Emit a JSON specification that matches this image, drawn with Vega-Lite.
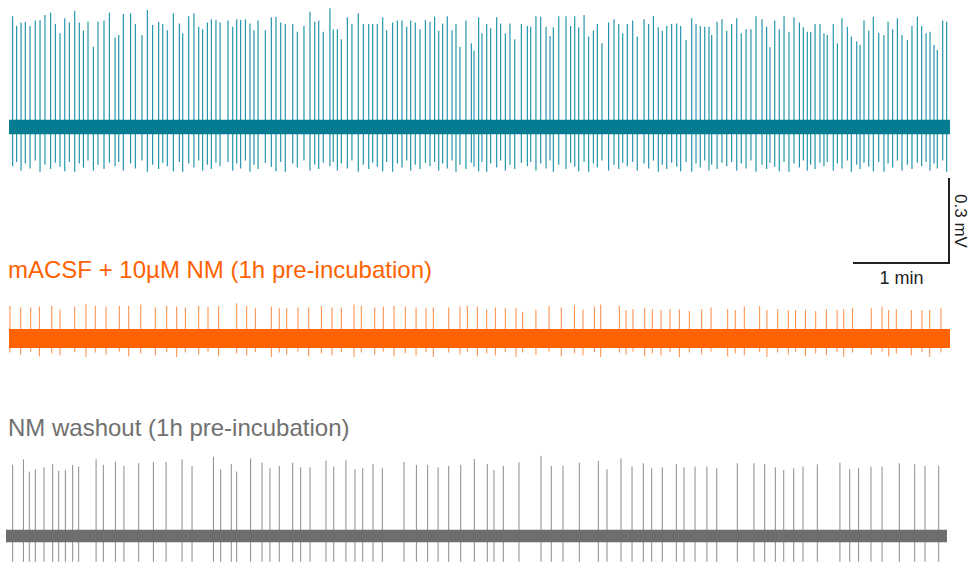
{
  "$schema": "https://vega.github.io/schema/vega-lite/v6.json",
  "padding": 0,
  "bounds": "flush",
  "spacing": 20,
  "background": "white",
  "config": {"view": {"stroke": null}, "font": "Liberation Sans"},
  "resolve": {"scale": {"x": "independent", "y": "independent"}},
  "datasets": {
    "bands": [
      {"trace": "teal", "t0": 0, "t1": 594.3, "lo": -0.026, "hi": 0.026},
      {"trace": "orange", "t0": 0, "t1": 594.3, "lo": -0.034, "hi": 0.034},
      {"trace": "gray", "t0": -1.9, "t1": 592.4, "lo": -0.022, "hi": 0.022}
    ],
    "scalebar": [
      {"t": 533.7, "t2": 593.7, "v": -0.4857, "v2": -0.4857},
      {"t": 593.7, "t2": 593.7, "v": -0.4857, "v2": -0.1857}
    ],
    "labels": [
      {"t": 563.7, "v": -0.5607, "label": "1 min", "angle": 0},
      {"t": 597.5, "v": -0.3357, "label": "0.3 mV", "angle": 90}
    ],
    "teal": [
      {"t":2.3,"hi":0.396,"lo":-0.14},{"t":4.8,"hi":0.361,"lo":-0.125},{"t":7.6,"hi":0.373,"lo":-0.155},{"t":10.3,"hi":0.375,"lo":-0.13},
      {"t":13.3,"hi":0.361,"lo":-0.148},{"t":16.6,"hi":0.38,"lo":-0.12},{"t":19.6,"hi":0.382,"lo":-0.16},{"t":22.7,"hi":0.4,"lo":-0.135},
      {"t":26.3,"hi":0.408,"lo":-0.15},{"t":29.3,"hi":0.368,"lo":-0.128},{"t":32.2,"hi":0.335,"lo":-0.142},{"t":35.2,"hi":0.388,"lo":-0.158},
      {"t":38.1,"hi":0.373,"lo":-0.125},{"t":41.5,"hi":0.415,"lo":-0.16},{"t":44.4,"hi":0.373,"lo":-0.13},{"t":47.0,"hi":0.344,"lo":-0.145},
      {"t":49.9,"hi":0.376,"lo":-0.12},{"t":53.3,"hi":0.287,"lo":-0.155},{"t":56.2,"hi":0.376,"lo":-0.135},{"t":60.0,"hi":0.38,"lo":-0.15},
      {"t":63.4,"hi":0.408,"lo":-0.128},{"t":67.0,"hi":0.32,"lo":-0.14},{"t":69.3,"hi":0.329,"lo":-0.125},{"t":72.2,"hi":0.404,"lo":-0.155},
      {"t":76.8,"hi":0.406,"lo":-0.13},{"t":79.8,"hi":0.368,"lo":-0.148},{"t":84.0,"hi":0.329,"lo":-0.12},{"t":87.4,"hi":0.418,"lo":-0.16},
      {"t":90.7,"hi":0.364,"lo":-0.135},{"t":94.5,"hi":0.376,"lo":-0.15},{"t":97.1,"hi":0.368,"lo":-0.128},{"t":100.0,"hi":0.346,"lo":-0.14},
      {"t":103.8,"hi":0.406,"lo":-0.158},{"t":107.6,"hi":0.37,"lo":-0.125},{"t":109.7,"hi":0.335,"lo":-0.16},{"t":113.5,"hi":0.396,"lo":-0.13},
      {"t":116.8,"hi":0.406,"lo":-0.145},{"t":119.8,"hi":0.358,"lo":-0.12},{"t":122.3,"hi":0.349,"lo":-0.155},{"t":125.3,"hi":0.373,"lo":-0.135},
      {"t":127.8,"hi":0.385,"lo":-0.15},{"t":130.7,"hi":0.382,"lo":-0.128},{"t":133.3,"hi":0.373,"lo":-0.14},{"t":138.3,"hi":0.38,"lo":-0.125},
      {"t":141.3,"hi":0.358,"lo":-0.155},{"t":143.8,"hi":0.385,"lo":-0.13},{"t":146.3,"hi":0.382,"lo":-0.148},{"t":149.3,"hi":0.385,"lo":-0.12},
      {"t":152.2,"hi":0.37,"lo":-0.16},{"t":154.7,"hi":0.346,"lo":-0.135},{"t":157.3,"hi":0.38,"lo":-0.15},{"t":161.9,"hi":0.346,"lo":-0.128},
      {"t":165.7,"hi":0.392,"lo":-0.142},{"t":168.6,"hi":0.394,"lo":-0.158},{"t":171.6,"hi":0.373,"lo":-0.125},{"t":174.5,"hi":0.368,"lo":-0.16},
      {"t":179.2,"hi":0.368,"lo":-0.13},{"t":182.1,"hi":0.34,"lo":-0.145},{"t":186.3,"hi":0.361,"lo":-0.12},{"t":190.1,"hi":0.412,"lo":-0.155},
      {"t":193.1,"hi":0.376,"lo":-0.135},{"t":195.6,"hi":0.38,"lo":-0.15},{"t":198.5,"hi":0.34,"lo":-0.128},{"t":202.7,"hi":0.424,"lo":-0.14},
      {"t":204.8,"hi":0.349,"lo":-0.125},{"t":207.4,"hi":0.349,"lo":-0.155},{"t":209.9,"hi":0.313,"lo":-0.13},{"t":213.7,"hi":0.392,"lo":-0.148},
      {"t":216.6,"hi":0.368,"lo":-0.12},{"t":220.6,"hi":0.406,"lo":-0.16},{"t":223.8,"hi":0.368,"lo":-0.135},{"t":227.2,"hi":0.368,"lo":-0.15},
      {"t":229.7,"hi":0.368,"lo":-0.128},{"t":232.6,"hi":0.368,"lo":-0.142},{"t":236.0,"hi":0.392,"lo":-0.158},{"t":238.5,"hi":0.346,"lo":-0.125},
      {"t":242.3,"hi":0.373,"lo":-0.16},{"t":245.3,"hi":0.38,"lo":-0.13},{"t":248.2,"hi":0.38,"lo":-0.145},{"t":251.2,"hi":0.358,"lo":-0.12},
      {"t":253.7,"hi":0.38,"lo":-0.155},{"t":256.6,"hi":0.373,"lo":-0.135},{"t":259.6,"hi":0.349,"lo":-0.15},{"t":263.0,"hi":0.382,"lo":-0.128},
      {"t":265.9,"hi":0.376,"lo":-0.14},{"t":268.8,"hi":0.394,"lo":-0.125},{"t":271.4,"hi":0.344,"lo":-0.155},{"t":273.9,"hi":0.37,"lo":-0.13},
      {"t":276.8,"hi":0.396,"lo":-0.148},{"t":279.8,"hi":0.346,"lo":-0.12},{"t":282.3,"hi":0.368,"lo":-0.16},{"t":284.8,"hi":0.287,"lo":-0.135},
      {"t":288.6,"hi":0.38,"lo":-0.15},{"t":292.0,"hi":0.299,"lo":-0.128},{"t":293.7,"hi":0.273,"lo":-0.142},{"t":296.6,"hi":0.392,"lo":-0.158},
      {"t":298.7,"hi":0.335,"lo":-0.125},{"t":301.7,"hi":0.368,"lo":-0.16},{"t":304.2,"hi":0.353,"lo":-0.13},{"t":308.0,"hi":0.392,"lo":-0.145},
      {"t":310.5,"hi":0.37,"lo":-0.12},{"t":313.5,"hi":0.335,"lo":-0.155},{"t":316.4,"hi":0.37,"lo":-0.135},{"t":319.4,"hi":0.313,"lo":-0.15},
      {"t":323.6,"hi":0.368,"lo":-0.128},{"t":327.4,"hi":0.361,"lo":-0.14},{"t":329.5,"hi":0.358,"lo":-0.125},{"t":332.8,"hi":0.396,"lo":-0.155},
      {"t":335.8,"hi":0.394,"lo":-0.13},{"t":339.2,"hi":0.358,"lo":-0.148},{"t":341.7,"hi":0.325,"lo":-0.12},{"t":343.8,"hi":0.356,"lo":-0.16},
      {"t":347.2,"hi":0.396,"lo":-0.135},{"t":351.8,"hi":0.396,"lo":-0.15},{"t":354.7,"hi":0.361,"lo":-0.128},{"t":357.3,"hi":0.396,"lo":-0.142},
      {"t":359.8,"hi":0.356,"lo":-0.158},{"t":363.2,"hi":0.4,"lo":-0.125},{"t":366.1,"hi":0.323,"lo":-0.16},{"t":369.1,"hi":0.344,"lo":-0.13},
      {"t":371.6,"hi":0.368,"lo":-0.145},{"t":374.5,"hi":0.299,"lo":-0.12},{"t":378.7,"hi":0.373,"lo":-0.155},{"t":382.1,"hi":0.385,"lo":-0.135},
      {"t":385.1,"hi":0.368,"lo":-0.15},{"t":387.6,"hi":0.335,"lo":-0.128},{"t":390.5,"hi":0.368,"lo":-0.14},{"t":393.9,"hi":0.38,"lo":-0.125},
      {"t":396.8,"hi":0.323,"lo":-0.155},{"t":401.1,"hi":0.385,"lo":-0.13},{"t":404.0,"hi":0.368,"lo":-0.148},{"t":407.0,"hi":0.396,"lo":-0.12},
      {"t":410.1,"hi":0.356,"lo":-0.16},{"t":412.6,"hi":0.344,"lo":-0.135},{"t":415.4,"hi":0.361,"lo":-0.15},{"t":418.5,"hi":0.368,"lo":-0.128},
      {"t":421.7,"hi":0.37,"lo":-0.142},{"t":424.2,"hi":0.361,"lo":-0.158},{"t":427.6,"hi":0.311,"lo":-0.125},{"t":431.2,"hi":0.388,"lo":-0.16},
      {"t":433.9,"hi":0.368,"lo":-0.13},{"t":436.6,"hi":0.361,"lo":-0.145},{"t":439.4,"hi":0.358,"lo":-0.12},{"t":442.1,"hi":0.358,"lo":-0.155},
      {"t":443.8,"hi":0.329,"lo":-0.135},{"t":447.2,"hi":0.376,"lo":-0.15},{"t":450.3,"hi":0.385,"lo":-0.128},{"t":453.3,"hi":0.344,"lo":-0.14},
      {"t":456.4,"hi":0.368,"lo":-0.125},{"t":459.6,"hi":0.388,"lo":-0.155},{"t":462.5,"hi":0.335,"lo":-0.13},{"t":465.5,"hi":0.349,"lo":-0.148},
      {"t":468.6,"hi":0.349,"lo":-0.12},{"t":471.8,"hi":0.396,"lo":-0.16},{"t":475.6,"hi":0.385,"lo":-0.135},{"t":478.5,"hi":0.358,"lo":-0.15},
      {"t":480.6,"hi":0.285,"lo":-0.128},{"t":483.6,"hi":0.38,"lo":-0.142},{"t":486.5,"hi":0.349,"lo":-0.158},{"t":489.5,"hi":0.396,"lo":-0.125},
      {"t":492.6,"hi":0.34,"lo":-0.16},{"t":495.8,"hi":0.392,"lo":-0.13},{"t":499.2,"hi":0.373,"lo":-0.145},{"t":501.7,"hi":0.356,"lo":-0.12},
      {"t":504.2,"hi":0.34,"lo":-0.155},{"t":506.3,"hi":0.34,"lo":-0.135},{"t":509.1,"hi":0.368,"lo":-0.15},{"t":512.2,"hi":0.368,"lo":-0.128},
      {"t":514.7,"hi":0.335,"lo":-0.14},{"t":516.8,"hi":0.329,"lo":-0.125},{"t":520.6,"hi":0.368,"lo":-0.155},{"t":523.2,"hi":0.299,"lo":-0.13},
      {"t":526.1,"hi":0.388,"lo":-0.148},{"t":529.5,"hi":0.358,"lo":-0.12},{"t":532.0,"hi":0.323,"lo":-0.16},{"t":535.4,"hi":0.305,"lo":-0.135},
      {"t":537.5,"hi":0.293,"lo":-0.15},{"t":540.0,"hi":0.38,"lo":-0.128},{"t":543.0,"hi":0.344,"lo":-0.142},{"t":545.9,"hi":0.394,"lo":-0.158},
      {"t":549.3,"hi":0.337,"lo":-0.125},{"t":552.6,"hi":0.329,"lo":-0.16},{"t":555.2,"hi":0.376,"lo":-0.13},{"t":558.1,"hi":0.349,"lo":-0.145},
      {"t":561.1,"hi":0.388,"lo":-0.12},{"t":564.0,"hi":0.329,"lo":-0.155},{"t":567.4,"hi":0.311,"lo":-0.135},{"t":570.3,"hi":0.361,"lo":-0.15},
      {"t":573.7,"hi":0.394,"lo":-0.128},{"t":576.4,"hi":0.361,"lo":-0.14},{"t":579.2,"hi":0.335,"lo":-0.125},{"t":581.7,"hi":0.34,"lo":-0.155},
      {"t":584.2,"hi":0.293,"lo":-0.13},{"t":586.3,"hi":0.275,"lo":-0.148},{"t":589.7,"hi":0.38,"lo":-0.12},{"t":592.2,"hi":0.376,"lo":-0.16}
    ],
    "orange": [
      {"t":0.6,"hi":0.116,"lo":-0.05},{"t":7.4,"hi":0.111,"lo":-0.058},{"t":13.7,"hi":0.111,"lo":-0.047},{"t":19.2,"hi":0.114,"lo":-0.064},
      {"t":27.0,"hi":0.116,"lo":-0.053},{"t":32.2,"hi":0.104,"lo":-0.06},{"t":41.5,"hi":0.114,"lo":-0.049},{"t":48.6,"hi":0.123,"lo":-0.066},
      {"t":54.5,"hi":0.116,"lo":-0.05},{"t":61.3,"hi":0.114,"lo":-0.058},{"t":69.7,"hi":0.116,"lo":-0.047},{"t":75.6,"hi":0.116,"lo":-0.064},
      {"t":83.2,"hi":0.121,"lo":-0.053},{"t":92.4,"hi":0.111,"lo":-0.06},{"t":99.6,"hi":0.116,"lo":-0.049},{"t":105.9,"hi":0.114,"lo":-0.066},
      {"t":111.4,"hi":0.111,"lo":-0.05},{"t":119.8,"hi":0.116,"lo":-0.058},{"t":125.7,"hi":0.114,"lo":-0.047},{"t":132.4,"hi":0.116,"lo":-0.064},
      {"t":143.8,"hi":0.126,"lo":-0.053},{"t":150.1,"hi":0.116,"lo":-0.06},{"t":155.6,"hi":0.108,"lo":-0.049},{"t":165.7,"hi":0.114,"lo":-0.066},
      {"t":170.7,"hi":0.108,"lo":-0.05},{"t":175.4,"hi":0.108,"lo":-0.058},{"t":182.5,"hi":0.111,"lo":-0.047},{"t":189.3,"hi":0.111,"lo":-0.064},
      {"t":197.3,"hi":0.116,"lo":-0.053},{"t":204.0,"hi":0.111,"lo":-0.06},{"t":209.9,"hi":0.111,"lo":-0.049},{"t":217.9,"hi":0.121,"lo":-0.066},
      {"t":222.5,"hi":0.116,"lo":-0.05},{"t":231.0,"hi":0.111,"lo":-0.058},{"t":236.4,"hi":0.114,"lo":-0.047},{"t":243.2,"hi":0.116,"lo":-0.064},
      {"t":250.3,"hi":0.114,"lo":-0.053},{"t":257.1,"hi":0.111,"lo":-0.06},{"t":263.4,"hi":0.108,"lo":-0.049},{"t":268.0,"hi":0.111,"lo":-0.066},
      {"t":277.7,"hi":0.111,"lo":-0.05},{"t":284.8,"hi":0.114,"lo":-0.058},{"t":289.5,"hi":0.116,"lo":-0.047},{"t":295.8,"hi":0.114,"lo":-0.064},
      {"t":301.7,"hi":0.104,"lo":-0.053},{"t":307.2,"hi":0.111,"lo":-0.06},{"t":313.5,"hi":0.108,"lo":-0.049},{"t":320.2,"hi":0.109,"lo":-0.066},
      {"t":324.4,"hi":0.095,"lo":-0.05},{"t":332.8,"hi":0.102,"lo":-0.058},{"t":341.1,"hi":0.116,"lo":-0.047},{"t":348.8,"hi":0.111,"lo":-0.064},
      {"t":357.1,"hi":0.118,"lo":-0.053},{"t":362.5,"hi":0.104,"lo":-0.06},{"t":369.7,"hi":0.114,"lo":-0.049},{"t":373.7,"hi":0.121,"lo":-0.066},
      {"t":385.5,"hi":0.116,"lo":-0.05},{"t":389.7,"hi":0.102,"lo":-0.058},{"t":394.1,"hi":0.105,"lo":-0.047},{"t":401.5,"hi":0.109,"lo":-0.064},
      {"t":406.3,"hi":0.105,"lo":-0.053},{"t":411.8,"hi":0.102,"lo":-0.06},{"t":417.5,"hi":0.105,"lo":-0.049},{"t":423.4,"hi":0.104,"lo":-0.066},
      {"t":429.7,"hi":0.098,"lo":-0.05},{"t":437.5,"hi":0.105,"lo":-0.058},{"t":443.4,"hi":0.111,"lo":-0.047},{"t":453.9,"hi":0.105,"lo":-0.064},
      {"t":458.7,"hi":0.101,"lo":-0.053},{"t":464.4,"hi":0.114,"lo":-0.06},{"t":474.1,"hi":0.116,"lo":-0.049},{"t":478.7,"hi":0.102,"lo":-0.066},
      {"t":485.5,"hi":0.105,"lo":-0.05},{"t":492.2,"hi":0.101,"lo":-0.058},{"t":496.8,"hi":0.102,"lo":-0.047},{"t":503.0,"hi":0.102,"lo":-0.064},
      {"t":509.5,"hi":0.098,"lo":-0.053},{"t":516.2,"hi":0.105,"lo":-0.06},{"t":523.0,"hi":0.102,"lo":-0.049},{"t":527.2,"hi":0.105,"lo":-0.066},
      {"t":532.8,"hi":0.109,"lo":-0.05},{"t":544.6,"hi":0.108,"lo":-0.058},{"t":551.4,"hi":0.114,"lo":-0.047},{"t":555.6,"hi":0.102,"lo":-0.064},
      {"t":560.4,"hi":0.105,"lo":-0.053},{"t":569.9,"hi":0.102,"lo":-0.06},{"t":576.6,"hi":0.102,"lo":-0.049},{"t":581.5,"hi":0.102,"lo":-0.066},
      {"t":588.6,"hi":0.108,"lo":-0.05}
    ],
    "gray": [
      {"t":2.3,"hi":0.254,"lo":-0.092},{"t":9.1,"hi":0.274,"lo":-0.092},{"t":12.8,"hi":0.23,"lo":-0.092},{"t":16.6,"hi":0.238,"lo":-0.092},
      {"t":22.1,"hi":0.245,"lo":-0.092},{"t":27.6,"hi":0.257,"lo":-0.092},{"t":31.4,"hi":0.233,"lo":-0.092},{"t":35.6,"hi":0.236,"lo":-0.092},
      {"t":40.2,"hi":0.254,"lo":-0.092},{"t":44.0,"hi":0.248,"lo":-0.092},{"t":55.0,"hi":0.274,"lo":-0.092},{"t":59.6,"hi":0.254,"lo":-0.092},
      {"t":67.2,"hi":0.265,"lo":-0.092},{"t":72.6,"hi":0.25,"lo":-0.092},{"t":81.9,"hi":0.26,"lo":-0.092},{"t":91.2,"hi":0.265,"lo":-0.092},
      {"t":99.2,"hi":0.265,"lo":-0.092},{"t":109.3,"hi":0.274,"lo":-0.092},{"t":115.6,"hi":0.25,"lo":-0.092},{"t":129.1,"hi":0.283,"lo":-0.092},
      {"t":133.7,"hi":0.238,"lo":-0.092},{"t":140.4,"hi":0.257,"lo":-0.092},{"t":143.8,"hi":0.23,"lo":-0.092},{"t":152.6,"hi":0.277,"lo":-0.092},
      {"t":159.8,"hi":0.262,"lo":-0.092},{"t":164.8,"hi":0.242,"lo":-0.092},{"t":170.7,"hi":0.25,"lo":-0.092},{"t":179.2,"hi":0.262,"lo":-0.092},
      {"t":184.2,"hi":0.245,"lo":-0.092},{"t":190.1,"hi":0.245,"lo":-0.092},{"t":200.2,"hi":0.269,"lo":-0.092},{"t":205.1,"hi":0.248,"lo":-0.092},
      {"t":212.8,"hi":0.271,"lo":-0.092},{"t":218.5,"hi":0.238,"lo":-0.092},{"t":223.4,"hi":0.242,"lo":-0.092},{"t":229.9,"hi":0.257,"lo":-0.092},
      {"t":235.8,"hi":0.242,"lo":-0.092},{"t":249.5,"hi":0.265,"lo":-0.092},{"t":257.3,"hi":0.254,"lo":-0.092},{"t":264.4,"hi":0.254,"lo":-0.092},
      {"t":271.0,"hi":0.245,"lo":-0.092},{"t":277.7,"hi":0.251,"lo":-0.092},{"t":285.3,"hi":0.254,"lo":-0.092},{"t":293.9,"hi":0.275,"lo":-0.092},
      {"t":302.1,"hi":0.257,"lo":-0.092},{"t":306.3,"hi":0.236,"lo":-0.092},{"t":312.2,"hi":0.251,"lo":-0.092},{"t":322.1,"hi":0.263,"lo":-0.092},
      {"t":336.0,"hi":0.286,"lo":-0.092},{"t":342.5,"hi":0.25,"lo":-0.092},{"t":349.9,"hi":0.251,"lo":-0.092},{"t":360.2,"hi":0.262,"lo":-0.092},
      {"t":372.2,"hi":0.268,"lo":-0.092},{"t":377.7,"hi":0.238,"lo":-0.092},{"t":386.5,"hi":0.277,"lo":-0.092},{"t":393.5,"hi":0.248,"lo":-0.092},
      {"t":400.6,"hi":0.26,"lo":-0.092},{"t":405.9,"hi":0.242,"lo":-0.092},{"t":412.6,"hi":0.245,"lo":-0.092},{"t":421.5,"hi":0.257,"lo":-0.092},
      {"t":426.3,"hi":0.245,"lo":-0.092},{"t":433.3,"hi":0.248,"lo":-0.092},{"t":440.8,"hi":0.248,"lo":-0.092},{"t":447.0,"hi":0.242,"lo":-0.092},
      {"t":460.0,"hi":0.26,"lo":-0.092},{"t":470.5,"hi":0.26,"lo":-0.092},{"t":477.3,"hi":0.257,"lo":-0.092},{"t":484.0,"hi":0.245,"lo":-0.092},
      {"t":489.3,"hi":0.236,"lo":-0.092},{"t":495.6,"hi":0.242,"lo":-0.092},{"t":501.5,"hi":0.248,"lo":-0.092},{"t":510.5,"hi":0.256,"lo":-0.092},
      {"t":524.8,"hi":0.262,"lo":-0.092},{"t":531.0,"hi":0.239,"lo":-0.092},{"t":536.6,"hi":0.244,"lo":-0.092},{"t":544.4,"hi":0.248,"lo":-0.092},
      {"t":551.4,"hi":0.248,"lo":-0.092},{"t":562.3,"hi":0.26,"lo":-0.092},{"t":572.0,"hi":0.256,"lo":-0.092},{"t":578.5,"hi":0.25,"lo":-0.092},
      {"t":587.2,"hi":0.251,"lo":-0.092}
    ]
  },
  "vconcat": [
    {
      "width": 971,
      "height": 280,
      "layer": [
        {
          "data": {"name": "teal"},
          "mark": {"type": "rule", "color": "#2496ad", "strokeWidth": 1.2},
          "encoding": {
            "x": {"field": "t", "type": "quantitative", "scale": {"domain": [-5.684, 607.58], "nice": false, "zero": false}, "axis": null},
            "y": {"field": "lo", "type": "quantitative", "scale": {"domain": [-0.5464, 0.4536], "nice": false, "zero": false}, "axis": null},
            "y2": {"field": "hi"}
          }
        },
        {
          "data": {"name": "bands"},
          "transform": [{"filter": "datum.trace === 'teal'"}],
          "mark": {"type": "rect", "color": "#067c93"},
          "encoding": {
            "x": {"field": "t0", "type": "quantitative"},
            "x2": {"field": "t1"},
            "y": {"field": "lo", "type": "quantitative"},
            "y2": {"field": "hi"}
          }
        },
        {
          "data": {"name": "scalebar"},
          "mark": {"type": "rule", "color": "#222222", "strokeWidth": 2, "strokeCap": "square"},
          "encoding": {
            "x": {"field": "t", "type": "quantitative"},
            "x2": {"field": "t2"},
            "y": {"field": "v", "type": "quantitative"},
            "y2": {"field": "v2"}
          }
        },
        {
          "data": {"name": "labels"},
          "transform": [{"filter": "datum.angle === 0"}],
          "mark": {"type": "text", "fontSize": 18, "color": "#222222", "align": "center", "baseline": "alphabetic", "font": "Liberation Sans"},
          "encoding": {
            "x": {"field": "t", "type": "quantitative"},
            "y": {"field": "v", "type": "quantitative"},
            "text": {"field": "label"}
          }
        },
        {
          "data": {"name": "labels"},
          "transform": [{"filter": "datum.angle === 90"}],
          "mark": {"type": "text", "fontSize": 17, "color": "#222222", "align": "center", "baseline": "alphabetic", "angle": 90, "font": "Liberation Sans"},
          "encoding": {
            "x": {"field": "t", "type": "quantitative"},
            "y": {"field": "v", "type": "quantitative"},
            "text": {"field": "label"}
          }
        }
      ]
    },
    {
      "width": 971,
      "height": 130,
      "title": {"text": "mACSF + 10µM NM (1h pre-incubation)", "anchor": "start", "frame": "group", "offset": 0, "dy": 2, "baseline": "alphabetic", "fontSize": 24, "fontWeight": "normal", "font": "Liberation Sans", "color": "#ff6200", "dx": 8},
      "layer": [
        {
          "data": {"name": "orange"},
          "mark": {"type": "rule", "color": "#ff8a3d", "strokeWidth": 1},
          "encoding": {
            "x": {"field": "t", "type": "quantitative", "scale": {"domain": [-5.684, 607.58], "nice": false, "zero": false}, "axis": null},
            "y": {"field": "lo", "type": "quantitative", "scale": {"domain": [-0.3268, 0.1375], "nice": false, "zero": false}, "axis": null},
            "y2": {"field": "hi"}
          }
        },
        {
          "data": {"name": "bands"},
          "transform": [{"filter": "datum.trace === 'orange'"}],
          "mark": {"type": "rect", "color": "#ff6200"},
          "encoding": {
            "x": {"field": "t0", "type": "quantitative"},
            "x2": {"field": "t1"},
            "y": {"field": "lo", "type": "quantitative"},
            "y2": {"field": "hi"}
          }
        }
      ]
    },
    {
      "width": 971,
      "height": 112,
      "title": {"text": "NM washout (1h pre-incubation)", "anchor": "start", "frame": "group", "offset": 0, "dy": 10, "baseline": "alphabetic", "fontSize": 24, "fontWeight": "normal", "font": "Liberation Sans", "color": "#707070", "dx": 8},
      "layer": [
        {
          "data": {"name": "gray"},
          "mark": {"type": "rule", "color": "#8c8c8c", "strokeWidth": 1},
          "encoding": {
            "x": {"field": "t", "type": "quantitative", "scale": {"domain": [-5.684, 607.58], "nice": false, "zero": false}, "axis": null},
            "y": {"field": "lo", "type": "quantitative", "scale": {"domain": [-0.0929, 0.3071], "nice": false, "zero": false}, "axis": null},
            "y2": {"field": "hi"}
          }
        },
        {
          "data": {"name": "bands"},
          "transform": [{"filter": "datum.trace === 'gray'"}],
          "mark": {"type": "rect", "color": "#6e6e6e"},
          "encoding": {
            "x": {"field": "t0", "type": "quantitative"},
            "x2": {"field": "t1"},
            "y": {"field": "lo", "type": "quantitative"},
            "y2": {"field": "hi"}
          }
        }
      ]
    }
  ]
}
